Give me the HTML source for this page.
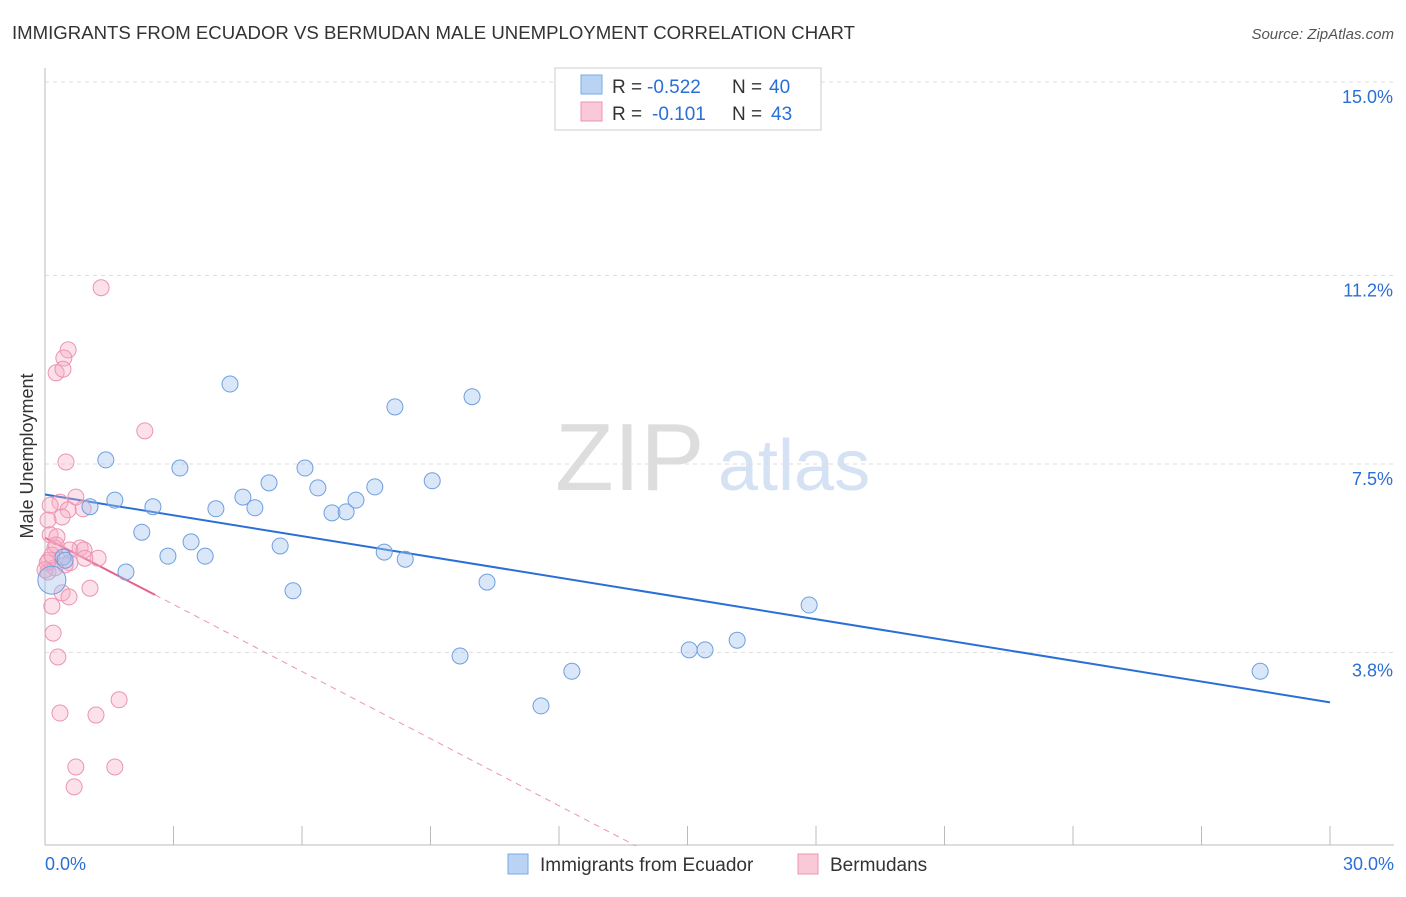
<!DOCTYPE html>
<html><head><meta charset="utf-8"><style>
body{margin:0;background:#fff;font-family:"Liberation Sans",sans-serif;}
svg text{font-family:"Liberation Sans",sans-serif;}
</style></head><body>
<svg id="chart" width="1406" height="892" xmlns="http://www.w3.org/2000/svg">
<text x="12" y="39" font-size="18.6" fill="#333">IMMIGRANTS FROM ECUADOR VS BERMUDAN MALE UNEMPLOYMENT CORRELATION CHART</text>
<text x="1394" y="39" font-size="15" fill="#555" text-anchor="end" font-style="italic">Source: ZipAtlas.com</text>
<text x="555" y="490" font-size="96" fill="#ddd" font-family="Liberation Serif,serif">ZIP</text>
<text x="718" y="490" font-size="72" fill="#d4e2f4">atlas</text>
<text transform="translate(33,456) rotate(-90)" font-size="18" fill="#333" text-anchor="middle">Male Unemployment</text>
<g id="grid"></g><g id="axes"></g><g id="trend"></g><g id="pts"></g>
<g>
<rect x="555" y="68" width="266" height="62" fill="#fff" stroke="#ccc"/>
<rect x="581" y="75" width="21" height="19" fill="#b9d3f5" stroke="#7aa8e6"/>
<text x="612" y="93" font-size="19" fill="#333">R =</text>
<text x="647" y="93" font-size="19" fill="#2a6fd6">-0.522</text>
<text x="732" y="93" font-size="19" fill="#333">N =</text>
<text x="769" y="93" font-size="19" fill="#2a6fd6">40</text>
<rect x="581" y="102" width="21" height="19" fill="#f9c9d8" stroke="#ec94b1"/>
<text x="612" y="120" font-size="19" fill="#333">R =</text>
<text x="652" y="120" font-size="19" fill="#2a6fd6">-0.101</text>
<text x="732" y="120" font-size="19" fill="#333">N =</text>
<text x="771" y="120" font-size="19" fill="#2a6fd6">43</text>
</g>
<g>
<rect x="508" y="854" width="20" height="20" fill="#b9d3f5" stroke="#7aa8e6"/>
<text x="540" y="871" font-size="19" fill="#333">Immigrants from Ecuador</text>
<rect x="798" y="854" width="20" height="20" fill="#f9c9d8" stroke="#ec94b1"/>
<text x="830" y="871" font-size="19" fill="#333">Bermudans</text>
</g>
</svg>
<script>
const blueX=[.16,.42,1.05,1.42,1.63,1.89,2.26,2.52,2.87,3.15,3.41,3.74,3.99,4.32,4.62,4.90,5.23,5.49,5.79,6.07,6.37,6.70,7.03,7.26,7.70,7.92,8.17,8.41,9.04,9.69,9.97,10.32,11.58,12.30,15.04,15.41,16.16,17.84,28.37,.47];
const blueY=[5.22,5.67,6.66,7.58,6.79,5.38,6.16,6.66,5.69,7.42,5.97,5.69,6.62,9.07,6.85,6.64,7.13,5.89,5.01,7.42,7.03,6.54,6.56,6.79,7.05,5.77,8.62,5.63,7.17,3.73,8.82,5.18,2.75,3.43,3.85,3.85,4.04,4.73,3.43,5.61];
const pinkX=[1.31,.54,.44,.26,.42,2.33,.49,.72,.35,.12,.89,.54,.40,.07,.12,.28,.82,.23,.58,.91,1.24,.09,.58,.23,.05,.40,1.05,.56,.16,.19,.30,.35,1.19,1.73,.72,1.63,.68,.07,.93,.16,.47,0,.26];
const pinkY=[10.96,9.74,9.58,9.29,9.36,8.15,7.54,6.85,6.75,6.69,6.62,6.60,6.46,6.40,6.11,6.07,5.85,5.85,5.81,5.81,5.65,5.61,5.56,5.46,5.56,4.97,5.06,4.89,4.71,4.18,3.71,2.61,2.57,2.87,1.55,1.55,1.16,5.38,5.65,5.71,5.52,5.42,5.91];
const yTicks=[3.8,7.5,11.2,15.0];
const xTickLabels=["0.0%","30.0%"];
const blueTrend=[[0,6.9],[30,2.82]];
const pinkTrend=[[0,6.05],[2.57,4.93]];
const pinkDash=[[2.57,4.93],[13.8,0]];
const NS="http://www.w3.org/2000/svg";
const sx=v=>45+v*42.833, sy=v=>82+(15-v)*50.93;
function mk(t,a,p){const e=document.createElementNS(NS,t);for(const k in a)e.setAttribute(k,a[k]);document.getElementById(p).appendChild(e);return e;}
yTicks.forEach(t=>{
 const l=mk('line',{x1:45,x2:1394,y1:sy(t),y2:sy(t),stroke:'#ddd','stroke-dasharray':'4,4'},'grid');
 
 
 const tx=mk('text',{x:1393,y:sy(t)+(t<5?24:21),'font-size':18,fill:'#2a6fd6','text-anchor':'end'},'axes');tx.textContent=t.toFixed(1)+'%';
 
 
});
mk('line',{x1:45,x2:45,y1:68,y2:845,stroke:'#bbb'},'axes');
mk('line',{x1:45,x2:1394,y1:845,y2:845,stroke:'#bbb'},'axes');
for(let i=1;i<=10;i++){mk('line',{x1:sx(i*3),x2:sx(i*3),y1:826,y2:845,stroke:'#bbb'},'axes');}
[[0,'start',45],[30,'end',1394]].forEach((d,i)=>{const t=mk('text',{x:d[2],y:870,'font-size':18,fill:'#2a6fd6','text-anchor':d[1]},'axes');t.textContent=xTickLabels[i];
 
 });
const bl=mk('line',{x1:sx(blueTrend[0][0]),y1:sy(blueTrend[0][1]),x2:sx(blueTrend[1][0]),y2:sy(blueTrend[1][1]),stroke:'#2a6fd6','stroke-width':2},'trend');


const pd=mk('line',{x1:sx(pinkDash[0][0]),y1:sy(pinkDash[0][1]),x2:sx(pinkDash[1][0]),y2:sy(pinkDash[1][1]),stroke:'#ec94b1','stroke-width':1,'stroke-dasharray':'6,5'},'trend');


const pl=mk('line',{x1:sx(pinkTrend[0][0]),y1:sy(pinkTrend[0][1]),x2:sx(pinkTrend[1][0]),y2:sy(pinkTrend[1][1]),stroke:'#e8608c','stroke-width':2},'trend');


pinkX.forEach((x,i)=>{const c=mk('circle',{cx:sx(x),cy:sy(pinkY[i]),r:8,fill:'rgba(246,170,196,0.35)',stroke:'#ec94b1','stroke-width':1},'pts');
 
 });
blueX.forEach((x,i)=>{const c=mk('circle',{cx:sx(x),cy:sy(blueY[i]),r:i==0?14:8,fill:'rgba(160,196,240,0.4)',stroke:'#6f9fe0','stroke-width':1},'pts');
 
 });
</script>
</body></html>
